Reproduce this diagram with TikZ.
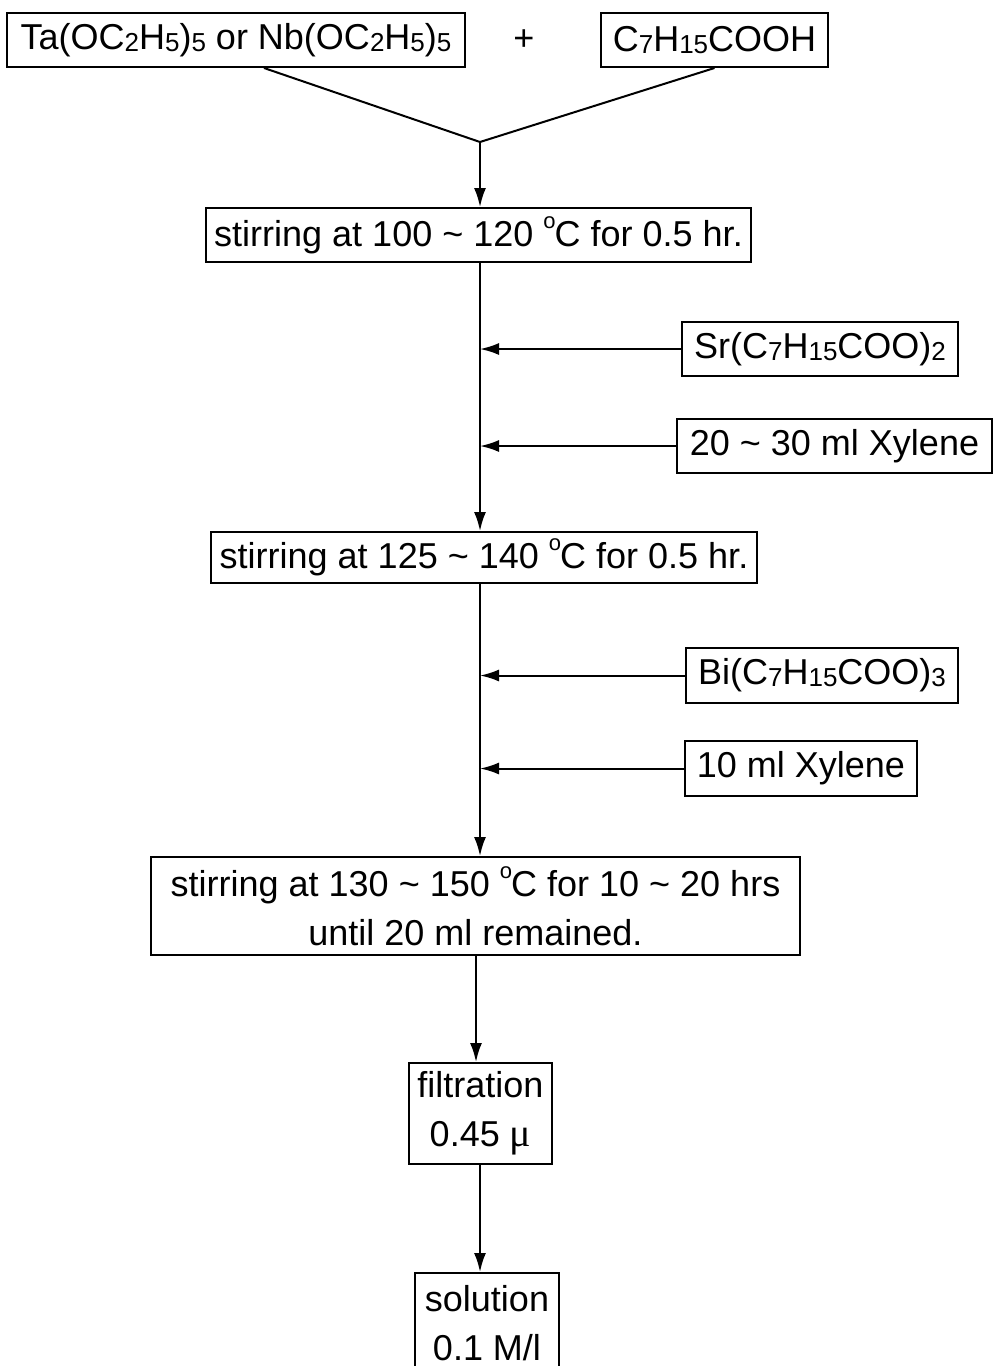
\documentclass[tikz,border=0pt]{standalone}
\usepackage{fontspec}
\setmainfont{Liberation Sans}
\newfontfamily\serifmu{Liberation Serif}
\usetikzlibrary{arrows.meta}
\newcommand\chsub[1]{\raisebox{-0.05em}{\fontsize{26}{26}\selectfont #1}}
\newcommand\degsign{\raisebox{0.5em}{\fontsize{22}{22}\selectfont o}\kern-1pt}
\begin{document}
\begin{tikzpicture}[x=1pt,y=-1pt,
  box/.style={draw, line width=2pt, inner sep=0pt, font=\fontsize{36}{49}\selectfont, align=center},
  arr/.style={line width=2pt, -{Latex[length=19pt,width=12pt]}},
  ln/.style={line width=2pt}]
\useasboundingbox (0,0) rectangle (994,1366);
\clip (0,0) rectangle (994,1366);
% top row
\node[box, minimum width=458, minimum height=54] (ta) at (236,40) {Ta(OC\chsub2H\chsub5)\chsub5 or Nb(OC\chsub2H\chsub5)\chsub5};
\node[font=\fontsize{36}{49}\selectfont, inner sep=0pt] (plus) at (524,40) {+};
\node[box, minimum width=227, minimum height=54] (acid) at (714.5,40) {C\chsub7H\chsub{15}COOH};
% main boxes
\node[box, minimum width=545, minimum height=54] (s1) at (478.5,235) {stirring at 100 \textasciitilde{} 120 \degsign C for 0.5 hr.};
\node[box, minimum width=276, minimum height=54] (sr) at (820,349) {Sr(C\chsub7H\chsub{15}COO)\chsub2};
\node[box, minimum width=315, minimum height=54] (xy1) at (834.5,446) {20 \textasciitilde{} 30 ml Xylene};
\node[box, minimum width=546, minimum height=51] (s2) at (484,557.5) {stirring at 125 \textasciitilde{} 140 \degsign C for 0.5 hr.};
\node[box, minimum width=272, minimum height=55] (bi) at (822,675.5) {Bi(C\chsub7H\chsub{15}COO)\chsub3};
\node[box, minimum width=232, minimum height=55] (xy2) at (801,768.5) {10 ml Xylene};
\node[box, minimum width=649, minimum height=98] (s3) at (475.5,906) {stirring at 130 \textasciitilde{} 150 \degsign C for 10 \textasciitilde{} 20 hrs\\until 20 ml remained.};
\node[box, minimum width=143, minimum height=101] (filt) at (480.5,1113.5) {filtration\\0.45 {\serifmu\fontsize{40}{49}\selectfont μ}};
\node[box, minimum width=144, minimum height=100, anchor=north] (sol) at (487,1272) {solution\\0.1 M/l};
% connectors
\coordinate (j) at (480,142);
\coordinate (c2) at (476,1000);
\draw[ln] ([xshift=28pt]ta.south) -- (j);
\draw[ln] (acid.south) -- (j);
\draw[arr] (j) -- (j |- s1.north);
\draw[arr] (s1.south -| j) -- (s2.north -| j);
\draw[arr] (sr.west) -- (sr.west -| j);
\draw[arr] (xy1.west) -- (xy1.west -| j);
\draw[arr] (s2.south -| j) -- (s3.north -| j);
\draw[arr] (bi.west) -- (bi.west -| j);
\draw[arr] (xy2.west) -- (xy2.west -| j);
\draw[arr] (s3.south -| c2) -- (filt.north -| c2);
\draw[arr] (filt.south -| j) -- (sol.north -| j);
\end{tikzpicture}
\end{document}
